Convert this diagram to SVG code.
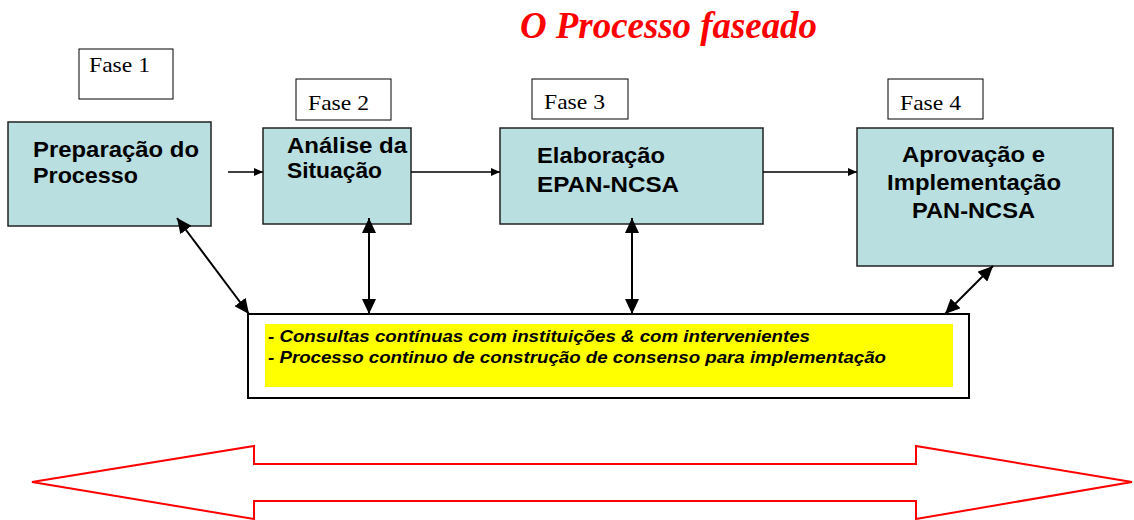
<svg xmlns="http://www.w3.org/2000/svg" width="1134" height="520" viewBox="0 0 1134 520">
<style>
.phase{fill:#b9dfe1;stroke:#222;stroke-width:1.5}
.fase{fill:#fff;stroke:#000;stroke-width:1}
.fasetxt{font-family:"Liberation Serif",serif;font-size:22px;fill:#000}
.ntxt{font-family:"Liberation Sans",Arial,sans-serif;font-size:22px;font-weight:bold;fill:#000}
.note{font-family:"Liberation Sans",Arial,sans-serif;font-size:17px;font-weight:bold;font-style:italic;fill:#000}
.flow{stroke:#000;stroke-width:1.5;fill:none}
.link{stroke:#000;stroke-width:2;fill:none}
</style>
<defs>
<marker id="sm" markerUnits="userSpaceOnUse" markerWidth="10" markerHeight="8" refX="9" refY="4" orient="auto"><path d="M0,0 L9,4 L0,8 z" fill="#000"/></marker>
<marker id="big" markerUnits="userSpaceOnUse" markerWidth="16" markerHeight="14" refX="15" refY="7" orient="auto-start-reverse"><path d="M0,0 L15,7 L0,14 z" fill="#000"/></marker>
</defs>
<text x="520" y="38" font-family="Liberation Serif,serif" font-size="37" font-weight="bold" font-style="italic" fill="#ff0000" textLength="297" lengthAdjust="spacingAndGlyphs">O Processo faseado</text>
<g id="fase1"><rect class="fase" x="79" y="49" width="94" height="50"/><text class="fasetxt" x="89" y="72" textLength="61" lengthAdjust="spacingAndGlyphs">Fase 1</text></g>
<g id="fase2"><rect class="fase" x="296" y="79" width="95" height="41"/><text class="fasetxt" x="308" y="110" textLength="61" lengthAdjust="spacingAndGlyphs">Fase 2</text></g>
<g id="fase3"><rect class="fase" x="532" y="79" width="96" height="40"/><text class="fasetxt" x="544" y="109" textLength="61" lengthAdjust="spacingAndGlyphs">Fase 3</text></g>
<g id="fase4"><rect class="fase" x="888" y="79" width="95" height="40"/><text class="fasetxt" x="900" y="110" textLength="61" lengthAdjust="spacingAndGlyphs">Fase 4</text></g>
<g id="preparacao"><rect class="phase" x="8" y="122" width="203" height="104"/>
<text class="ntxt" x="33" y="157" textLength="166" lengthAdjust="spacingAndGlyphs">Preparação do</text>
<text class="ntxt" x="33" y="183" textLength="105" lengthAdjust="spacingAndGlyphs">Processo</text></g>
<g id="analise"><rect class="phase" x="263" y="128" width="148" height="96"/>
<text class="ntxt" x="287" y="153" textLength="120" lengthAdjust="spacingAndGlyphs">Análise da</text>
<text class="ntxt" x="287" y="178" textLength="95" lengthAdjust="spacingAndGlyphs">Situação</text></g>
<g id="elaboracao"><rect class="phase" x="500" y="128" width="263" height="96"/>
<text class="ntxt" x="537" y="163" textLength="128" lengthAdjust="spacingAndGlyphs">Elaboração</text>
<text class="ntxt" x="537" y="192" textLength="142" lengthAdjust="spacingAndGlyphs">EPAN-NCSA</text></g>
<g id="aprovacao"><rect class="phase" x="857" y="128" width="256" height="138"/>
<text class="ntxt" x="902" y="162" textLength="143" lengthAdjust="spacingAndGlyphs">Aprovação e</text>
<text class="ntxt" x="887" y="190" textLength="174" lengthAdjust="spacingAndGlyphs">Implementação</text>
<text class="ntxt" x="912" y="218" textLength="123" lengthAdjust="spacingAndGlyphs">PAN-NCSA</text></g>
<g id="consultas"><rect x="248" y="314" width="721" height="84" fill="#fff" stroke="#000" stroke-width="2"/>
<rect x="265" y="324" width="688" height="63" fill="#ffff00"/>
<text class="note" x="268" y="342" textLength="542" lengthAdjust="spacingAndGlyphs">- Consultas contínuas com instituições &amp; com intervenientes</text>
<text class="note" x="268" y="363" textLength="618" lengthAdjust="spacingAndGlyphs">- Processo continuo de construção de consenso para implementação</text></g>
<g id="connectors">
<line class="flow" x1="228" y1="172" x2="263" y2="172" marker-end="url(#sm)"/>
<line class="flow" x1="411" y1="172" x2="500" y2="172" marker-end="url(#sm)"/>
<line class="flow" x1="763" y1="172" x2="857" y2="172" marker-end="url(#sm)"/>
<line class="link" x1="177" y1="218" x2="249" y2="314" marker-start="url(#big)" marker-end="url(#big)"/>
<line class="link" x1="369" y1="218" x2="369" y2="314" marker-start="url(#big)" marker-end="url(#big)"/>
<line class="link" x1="632" y1="218" x2="632" y2="314" marker-start="url(#big)" marker-end="url(#big)"/>
<line class="link" x1="993" y1="266" x2="945" y2="314" marker-start="url(#big)" marker-end="url(#big)"/>
</g>
<polygon id="timeline" points="32,482 254,446 254,464 916,464 916,446 1132,482 916,519 916,501 254,501 254,519" fill="#fff" stroke="#ff0000" stroke-width="2"/>
</svg>
